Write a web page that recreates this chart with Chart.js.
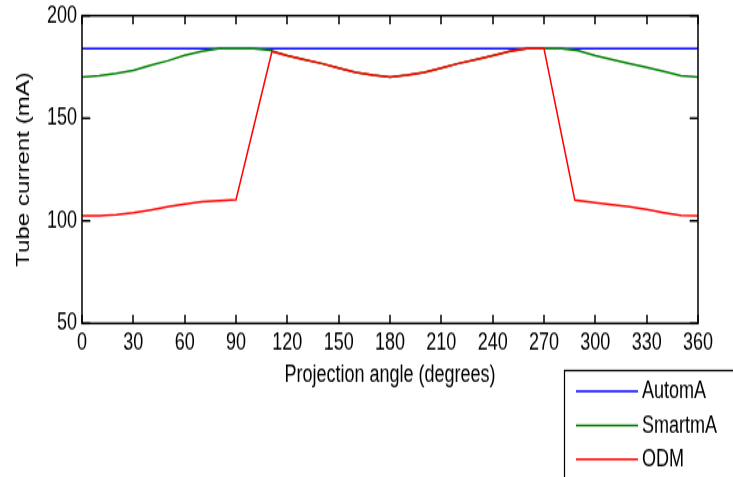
<!DOCTYPE html>
<html>
<head>
<meta charset="utf-8">
<title>Tube current vs projection angle</title>
<script src="https://cdn.jsdelivr.net/npm/chart.js@4/dist/chart.umd.min.js"></script>
<style>
    body { margin: 0; padding: 0; background: #fff; }
    #wrap { width: 733px; height: 477px; overflow: hidden; position: relative; }
    /* o original foi esticado na vertical, entao desenho menor e estico */
    #chart { display: block; transform: scaleY(1.34); transform-origin: 0 0; }
</style>
</head>
<body>
<div id="wrap"><canvas id="chart" width="733" height="356"></canvas></div>
<script>
// Dados
const xTicks = [0, 30, 60, 90, 120, 150, 180, 210, 240, 270, 300, 330, 360];
const yTicks = [50, 100, 150, 200];

const automaAngles = [0, 360];
const automaValues = [184, 184];

const smartmaAngles = [0, 10, 20, 30, 40, 50, 60, 70, 80, 90, 100, 110, 120, 130, 140, 150, 160, 170, 180,
    190, 200, 210, 220, 230, 240, 250, 260, 270, 280, 290, 300, 310, 320, 330, 340, 350, 360];
const smartmaValues = [170, 170.7, 171.8, 173.4, 175.8, 178, 180.7, 182.6, 184, 184, 184, 183.2, 180.5, 178.5, 176.7, 174.5, 172.3, 171, 170,
    171, 172.3, 174.5, 176.7, 178.5, 180.5, 182.7, 184, 184, 184, 183, 180.5, 178.5, 176.6, 174.8, 172.8, 170.7, 170];

const odmAngles = [0, 10, 20, 30, 40, 50, 60, 70, 80, 90, 111, 120, 130, 140, 150, 160, 170, 180,
    190, 200, 210, 220, 230, 240, 250, 260, 270, 288, 300, 310, 320, 330, 340, 350, 360];
const odmValues = [102.5, 102.5, 103, 103.9, 105.3, 106.8, 108.1, 109.3, 109.8, 110.3, 182.5, 180.5, 178.5, 176.7, 174.5, 172.3, 171, 170,
    171, 172.3, 174.5, 176.7, 178.5, 180.5, 182.7, 184, 184, 110.1, 108.8, 107.8, 106.8, 105.6, 104, 102.6, 102.5];

const FONT = '"Liberation Sans", Arial, sans-serif';

function toPoints(xs, ys) {
    return xs.map((x, i) => ({ x: x, y: ys[i] }));
}

// Caixa, marcas para dentro e legenda no estilo MATLAB
const matlabBox = {
    id: 'matlabBox',
    afterDraw(chart) {
        const c = chart.ctx;
        const a = chart.chartArea;
        const xs = chart.scales.x;
        const ys = chart.scales.y;
        c.save();
        c.strokeStyle = '#000';
        c.fillStyle = '#000';
        c.lineWidth = 1.5;
        c.strokeRect(a.left, a.top, a.right - a.left, a.bottom - a.top);

        // marcas para dentro, nos quatro lados
        xTicks.forEach(v => {
            const px = Math.round(xs.getPixelForValue(v));
            c.fillRect(px - 0.75, a.bottom - 6.4, 1.5, 6.4);
            c.fillRect(px - 0.75, a.top, 1.5, 6.4);
        });
        yTicks.forEach(v => {
            const py = ys.getPixelForValue(v);
            c.fillRect(a.left, py - 0.75, 8.3, 1.5);
            c.fillRect(a.right - 8.3, py - 0.75, 8.3, 1.5);
        });

        // legenda
        const boxLeft = 564.5, boxTop = 276.5;
        c.fillStyle = '#fff';
        c.fillRect(boxLeft, boxTop, 200, 100);
        c.lineWidth = 1.2;
        c.strokeRect(boxLeft, boxTop, 200, 100);
        c.font = '18px ' + FONT;
        c.textBaseline = 'middle';
        c.textAlign = 'left';
        chart.data.datasets.forEach((ds, i) => {
            const y = boxTop + 15.5 + i * 25.4;
            c.strokeStyle = ds.borderColor;
            c.lineWidth = 1.5;
            c.beginPath();
            c.moveTo(576, y);
            c.lineTo(638, y);
            c.stroke();
            c.fillStyle = '#000';
            c.fillText(ds.label, 642, y + 0.5);
        });
        c.restore();
    }
};

const chart = new Chart(document.getElementById('chart'), {
    type: 'line',
    data: {
        datasets: [{
            label: 'AutomA',
            data: toPoints(automaAngles, automaValues),
            borderColor: '#0000ff',
            order: 3
        }, {
            label: 'SmartmA',
            data: toPoints(smartmaAngles, smartmaValues),
            borderColor: '#008000',
            order: 2
        }, {
            label: 'ODM',
            data: toPoints(odmAngles, odmValues),
            borderColor: '#ff0000',
            order: 1
        }]
    },
    options: {
        responsive: false,
        animation: false,
        devicePixelRatio: 1,
        layout: { padding: { left: 0, right: 35, top: 11.7, bottom: 65.3 } },
        elements: {
            line: { borderWidth: 1.5, tension: 0, fill: false },
            point: { radius: 0, hoverRadius: 0 }
        },
        plugins: {
            legend: { display: false },
            tooltip: { enabled: false }
        },
        scales: {
            x: {
                type: 'linear',
                min: 0,
                max: 360,
                afterBuildTicks: scale => { scale.ticks = xTicks.map(v => ({ value: v })); },
                afterFit: scale => {
                    scale.height = 49.4;
                    scale.paddingLeft = 0;
                    scale.paddingRight = 0;
                },
                grid: { display: false, drawTicks: false },
                border: { display: false },
                ticks: {
                    color: '#000',
                    font: { family: FONT, size: 18 },
                    padding: 4,
                    maxRotation: 0,
                    autoSkip: false
                },
                title: {
                    display: true,
                    text: 'Projection angle (degrees)',
                    color: '#000',
                    font: { family: FONT, size: 18 },
                    padding: { top: 0, bottom: 0 }
                }
            },
            y: {
                min: 50,
                max: 200,
                afterBuildTicks: scale => { scale.ticks = yTicks.map(v => ({ value: v })); },
                afterFit: scale => {
                    scale.width = 82;
                    scale.paddingTop = 0;
                    scale.paddingBottom = 0;
                },
                grid: { display: false, drawTicks: false },
                border: { display: false },
                ticks: {
                    color: '#000',
                    font: { family: FONT, size: 18 },
                    padding: 5
                },
                title: {
                    display: true,
                    text: 'Tube current (mA)',
                    color: '#000',
                    font: { family: FONT, size: 18 },
                    padding: { top: 13, bottom: 0 }
                }
            }
        }
    },
    plugins: [matlabBox]
});
</script>
</body>
</html>
